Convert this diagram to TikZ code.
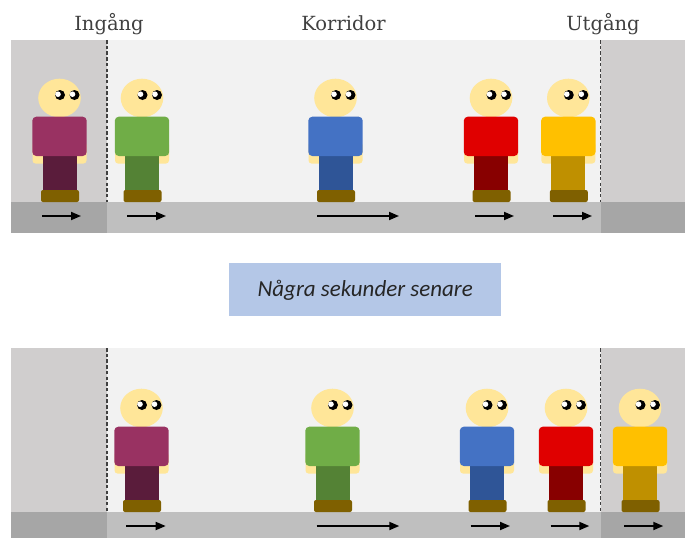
\documentclass[tikz,border=0pt]{standalone}
\usepackage{fontspec}
\setmainfont{DejaVu Serif}
\newfontfamily\boxfont{Carlito}
\usetikzlibrary{arrows.meta}

\definecolor{zone}{HTML}{D0CECE}
\definecolor{zonefloor}{HTML}{A6A6A6}
\definecolor{corr}{HTML}{F2F2F2}
\definecolor{corrfloor}{HTML}{BFBFBF}
\definecolor{doorline}{HTML}{404040}
\definecolor{labeltext}{HTML}{404040}
\definecolor{boxblue}{HTML}{B4C7E7}
\definecolor{skin}{HTML}{FFE699}
\definecolor{shoe}{HTML}{7F6000}
\definecolor{plumshirt}{HTML}{993262}
\definecolor{plumpants}{HTML}{5A1C3B}
\definecolor{greenshirt}{HTML}{70AD47}
\definecolor{greenpants}{HTML}{548235}
\definecolor{blueshirt}{HTML}{4472C4}
\definecolor{bluepants}{HTML}{2F5597}
\definecolor{redshirt}{HTML}{E00000}
\definecolor{redpants}{HTML}{880000}
\definecolor{yellowshirt}{HTML}{FFC000}
\definecolor{yellowpants}{HTML}{BF9000}

\tikzset{
  door/.style={draw=doorline, line width=1.4pt, dash pattern=on 3.5pt off 2.2pt},
  walk/.style={line width=1.8pt, -{Triangle[length=10pt,width=8pt]}},
  place/.style={text=labeltext, font=\fontsize{19.5}{23}\selectfont, anchor=base, inner sep=0},
}

% a walking figure: x, ground y, shirt colour, trouser colour
\newcommand{\figur}[4]{%
  \begin{scope}[shift={(#1,#2)}]
    \fill[skin, rounded corners=3pt] (-27,-60) rectangle (27,-38.5);
    \fill[#4] (-17,-50) rectangle (17,-8);
    \fill[shoe, rounded corners=2pt] (-18.5,-12) rectangle (19.5,0);
    \fill[skin] (0,-104) ellipse [x radius=21.3pt, y radius=19.3pt];
    \fill[#3, rounded corners=4pt] (-27.2,-85.3) rectangle (27.2,-46);
    \foreach \ex in {0.5,15} {
      \fill[black] (\ex,-107) circle[radius=5pt];
      \fill[white] (\ex-2,-107.8) circle[radius=2.8pt];
    }
  \end{scope}}

% corridor strip with entry and exit zones: top y, floor y, bottom y
\newcommand{\korridor}[3]{%
  \fill[zone] (11,#1) rectangle (107,#2);
  \fill[corr] (107,#1) rectangle (600.5,#2);
  \fill[zone] (600.5,#1) rectangle (685,#2);
  \fill[zonefloor] (11,#2) rectangle (107,#3);
  \fill[corrfloor] (107,#2) rectangle (600.5,#3);
  \fill[zonefloor] (600.5,#2) rectangle (685,#3);
  \draw[door] (107,#1) -- (107,#2);
  \draw[door] (600.5,#1) -- (600.5,#2);}

\begin{document}
\begin{tikzpicture}[x=1pt,y=-1pt]
  \useasboundingbox (0,0) rectangle (685,538);

  % labels above the corridor
  \node[place] (ingang) at (109,30) {Ingång};
  \node[place] (korridor) at (343.5,30) {Korridor};
  \node[place] (utgang) at (603,30) {Utgång};

  % first moment
  \korridor{40}{202}{233}
  \figur{59.5}{202}{plumshirt}{plumpants}
  \figur{142}{202}{greenshirt}{greenpants}
  \figur{335.5}{202}{blueshirt}{bluepants}
  \figur{491}{202}{redshirt}{redpants}
  \figur{568.3}{202}{yellowshirt}{yellowpants}
  \draw[walk] (42,216) -- (81,216);
  \draw[walk] (127,216) -- (166,216);
  \draw[walk] (317,216) -- (399,216);
  \draw[walk] (475,216) -- (514,216);
  \draw[walk] (553,216) -- (592,216);

  % time step
  \node[fill=boxblue, minimum width=271.7pt, minimum height=53.3pt, inner sep=0,
        text height=20pt, text depth=5.4pt, text=black!85]
    (senare) at (365.2,289.4) {\boxfont\itshape\fontsize{23}{27}\selectfont Några sekunder senare};

  % second moment
  \korridor{348}{512}{538}
  \figur{141.5}{512}{plumshirt}{plumpants}
  \figur{332.5}{512}{greenshirt}{greenpants}
  \figur{487}{512}{blueshirt}{bluepants}
  \figur{566}{512}{redshirt}{redpants}
  \figur{640}{512}{yellowshirt}{yellowpants}
  \draw[walk] (126,526) -- (165.7,526);
  \draw[walk] (316.7,526) -- (399.3,526);
  \draw[walk] (470.7,526) -- (510,526);
  \draw[walk] (550.7,526) -- (589.3,526);
  \draw[walk] (624.3,526) -- (663.3,526);
\end{tikzpicture}
\end{document}
